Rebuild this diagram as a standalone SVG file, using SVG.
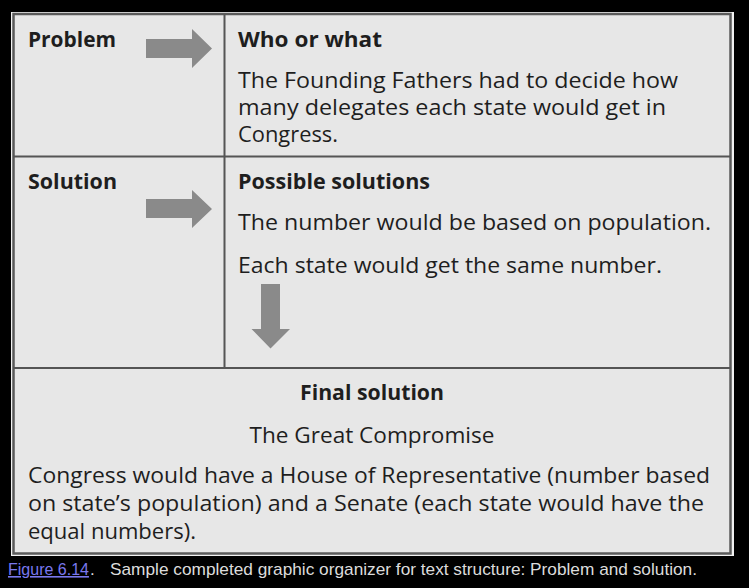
<svg xmlns="http://www.w3.org/2000/svg" width="749" height="588" viewBox="0 0 749 588">
  <style>
    .lbl { font-family: "Open Sans", "Noto Sans", "Liberation Sans", sans-serif; font-size: 21px; fill: #1e1e1e; }
    .hd { font-weight: bold; font-size: 21.5px; }
    .grid { stroke: #555; stroke-width: 2; fill: none; }
    .arrow { fill: #8a8a8a; }
    .cap { font-family: "Liberation Sans", Arial, sans-serif; font-size: 17px; fill: #dcdcdc; }
    .link { fill: #7a78ee; text-decoration: underline; font-size: 16px; }
  </style>

  <!-- page background -->
  <rect x="0" y="0" width="749" height="588" fill="#000"/>

  <!-- organizer frame -->
  <rect x="11" y="12" width="723" height="544" fill="#f2f2f2"/>
  <rect x="13.5" y="14" width="717" height="539.5" fill="#e7e7e7" stroke="#5a5a5a" stroke-width="2.5"/>
  <line class="grid" x1="224.5" y1="14" x2="224.5" y2="368"/>
  <line class="grid" x1="13.5" y1="156.5" x2="730.5" y2="156.5"/>
  <line class="grid" x1="13.5" y1="368" x2="730.5" y2="368"/>

  <g id="problem">
    <text class="lbl hd" x="28" y="47" textLength="88" lengthAdjust="spacingAndGlyphs">Problem</text>
  </g>

  <g id="who-or-what">
    <text class="lbl hd" x="238" y="47" textLength="144" lengthAdjust="spacingAndGlyphs">Who or what</text>
    <text class="lbl" x="238" y="88" textLength="440" lengthAdjust="spacingAndGlyphs">The Founding Fathers had to decide how</text>
    <text class="lbl" x="238" y="115" textLength="428" lengthAdjust="spacingAndGlyphs">many delegates each state would get in</text>
    <text class="lbl" x="238" y="142" textLength="100" lengthAdjust="spacingAndGlyphs">Congress.</text>
  </g>

  <g id="solution">
    <text class="lbl hd" x="28" y="189" textLength="89" lengthAdjust="spacingAndGlyphs">Solution</text>
  </g>

  <g id="possible-solutions">
    <text class="lbl hd" x="238" y="189" textLength="192" lengthAdjust="spacingAndGlyphs">Possible solutions</text>
    <text class="lbl" x="238" y="230" textLength="473" lengthAdjust="spacingAndGlyphs">The number would be based on population.</text>
    <text class="lbl" x="238" y="273" textLength="424" lengthAdjust="spacingAndGlyphs">Each state would get the same number.</text>
  </g>

  <g id="final-solution">
    <text class="lbl hd" x="372" y="400" text-anchor="middle" textLength="144" lengthAdjust="spacingAndGlyphs">Final solution</text>
    <text class="lbl" x="372" y="443" text-anchor="middle" textLength="245" lengthAdjust="spacingAndGlyphs">The Great Compromise</text>
    <text class="lbl" x="28" y="483" textLength="682" lengthAdjust="spacingAndGlyphs">Congress would have a House of Representative (number based</text>
    <text class="lbl" x="28" y="511" textLength="676" lengthAdjust="spacingAndGlyphs">on state’s population) and a Senate (each state would have the</text>
    <text class="lbl" x="28" y="539" textLength="168" lengthAdjust="spacingAndGlyphs">equal numbers).</text>
  </g>

  <g id="connectors">
    <!-- Problem → Who or what -->
    <polygon class="arrow" points="146,39 192,39 192,29 212,48.5 192,68 192,58 146,58"/>
    <!-- Solution → Possible solutions -->
    <polygon class="arrow" points="146,199 192,199 192,190 212,209 192,228 192,218 146,218"/>
    <!-- Possible solutions → Final solution -->
    <polygon class="arrow" points="261,284 280,284 280,329 290,329 270.5,348.5 251.5,329 261,329"/>
  </g>

  <!-- figure caption -->
  <g id="caption">
    <text class="cap" x="8" y="575"><tspan class="link">Figure 6.14</tspan><tspan dx="1">.</tspan><tspan x="110" textLength="587" lengthAdjust="spacingAndGlyphs">Sample completed graphic organizer for text structure: Problem and solution.</tspan></text>
  </g>
</svg>
